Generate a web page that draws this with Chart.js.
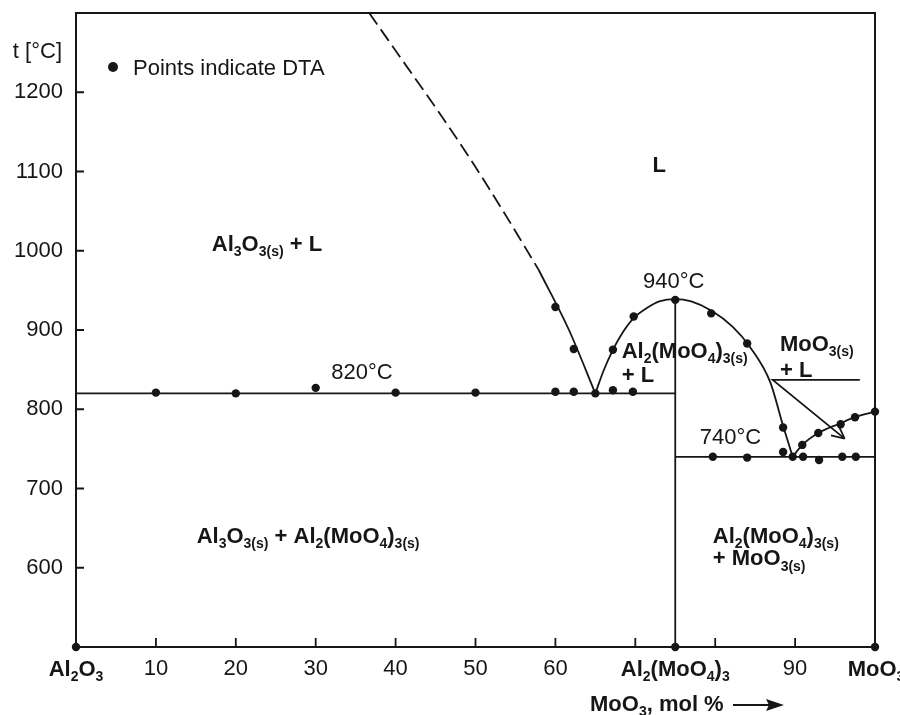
<!DOCTYPE html>
<html>
<head>
<meta charset="utf-8">
<script src="https://cdn.jsdelivr.net/npm/chart.js@4"></script>
<style>
  html, body { margin: 0; padding: 0; background: #fff; }
  #wrap { width: 900px; height: 715px; }
</style>
</head>
<body>
<div id="wrap"><canvas id="phase" width="900" height="715"></canvas></div>
<script>
// DTA measurement points (MoO3 mol %, temperature °C)
const dtaX = [0, 10, 20, 30, 40, 50, 60, 62.3, 65, 67.2, 69.7, 60, 62.3, 67.2, 69.8, 75, 79.5, 84, 88.5, 88.5, 89.7, 79.7, 84, 91, 93, 95.9, 97.6, 90.9, 92.9, 95.7, 97.5, 100, 75, 100];
const dtaY = [500, 821, 820, 827, 821, 821, 822, 822, 820, 824, 822, 929, 876, 875, 917, 938, 921, 883, 777, 746, 740, 740, 739, 740, 736, 740, 740, 755, 770, 781, 790, 797, 500, 500];

// Al2O3 liquidus (dashed, extrapolated part then measured part)
const liqDashX = [36.7, 40.8, 45.2, 49.4, 53.4, 57.9];
const liqDashY = [1300, 1241, 1178, 1115, 1051, 976];
const liqSolidX = [57.9, 61.7, 65.0];
const liqSolidY = [976, 900, 820];

// Al2(MoO4)3 liquidus dome
const domeX = [65, 66, 67.2, 68.5, 69.8, 71.5, 73, 75, 77, 79.6, 82.2, 84.4, 86.9, 88.5, 89.7];
const domeY = [820, 848, 875, 898, 915, 928, 936, 939, 936, 924, 904, 878, 834, 779, 740];

// MoO3 liquidus
const moLiqX = [89.7, 90.9, 92.9, 95.6, 97.5, 100];
const moLiqY = [740, 755, 770, 782, 790, 797];

// invariant lines
const eut820X = [0, 75];
const eut820Y = [820, 820];
const eut740X = [75, 100];
const eut740Y = [740, 740];
const compoundX = [75, 75];
const compoundY = [500, 940];

// pointer for the MoO3(s) + L label
const pointerX = [98.1, 87.2, 96.2];
const pointerY = [837, 837, 763];

// axis ticks
const xTickNums = [10, 20, 30, 40, 50, 60, 90];
const xTickMarks = [10, 20, 30, 40, 50, 60, 70, 80, 90];
const yTickVals = [600, 700, 800, 900, 1000, 1100, 1200];

const INK = '#161616';
const FONT = '"Liberation Sans", Arial, Helvetica, sans-serif';

function pts(xs, ys) {
    return xs.map((x, i) => ({ x: x, y: ys[i] }));
}

function lineSet(xs, ys, extra) {
    return Object.assign({
        data: pts(xs, ys),
        showLine: true,
        borderColor: INK,
        borderWidth: 1.8,
        pointRadius: 0,
        fill: false,
        clip: false
    }, extra || {});
}

// text with _{...} subscripts
function drawRich(ctx, str, x, y, align, size, bold) {
    const segs = str.split(/(_\{[^}]*\})/).filter(s => s.length);
    const w = bold ? 'bold ' : '';
    const subSize = Math.round(size * 0.64);
    const items = segs.map(s => {
        const sub = s.startsWith('_{');
        const text = sub ? s.slice(2, -1) : s;
        const font = w + (sub ? subSize : size) + 'px ' + FONT;
        ctx.font = font;
        return { text, sub, font, width: ctx.measureText(text).width };
    });
    const total = items.reduce((s, it) => s + it.width, 0);
    let cx = x;
    if (align === 'center') cx = x - total / 2;
    if (align === 'right') cx = x - total;
    ctx.textAlign = 'left';
    ctx.textBaseline = 'alphabetic';
    items.forEach(it => {
        ctx.font = it.font;
        ctx.fillText(it.text, cx, it.sub ? y + size * 0.24 : y);
        cx += it.width;
    });
}

const overlay = {
    id: 'overlay',
    afterDraw(chart) {
        const { ctx, chartArea: a, scales: { x, y } } = chart;
        ctx.save();
        ctx.fillStyle = INK;
        ctx.strokeStyle = INK;

        // frame
        ctx.lineWidth = 2;
        ctx.strokeRect(a.left, a.top, a.right - a.left, a.bottom - a.top);

        // inside ticks
        ctx.lineWidth = 1.8;
        ctx.beginPath();
        xTickMarks.forEach(v => {
            const px = x.getPixelForValue(v);
            ctx.moveTo(px, a.bottom);
            ctx.lineTo(px, a.bottom - 9);
        });
        yTickVals.forEach(v => {
            const py = y.getPixelForValue(v);
            ctx.moveTo(a.left, py);
            ctx.lineTo(a.left + 8, py);
        });
        ctx.stroke();

        // pointer arrowhead
        const tx = x.getPixelForValue(pointerX[2]), ty = y.getPixelForValue(pointerY[2]);
        const sx = x.getPixelForValue(pointerX[1]), sy = y.getPixelForValue(pointerY[1]);
        const ang = Math.atan2(ty - sy, tx - sx);
        ctx.beginPath();
        [0.45, -0.45].forEach(d => {
            ctx.moveTo(tx, ty);
            ctx.lineTo(tx - 14 * Math.cos(ang + d), ty - 14 * Math.sin(ang + d));
        });
        ctx.stroke();

        // compound labels on the composition axis
        const base = a.bottom + 29;
        drawRich(ctx, 'Al_{2}O_{3}', x.getPixelForValue(0), base, 'center', 22, true);
        drawRich(ctx, 'Al_{2}(MoO_{4})_{3}', x.getPixelForValue(75), base, 'center', 22, true);
        drawRich(ctx, 'MoO_{3}', x.getPixelForValue(100) + 1, base, 'center', 22, true);

        // axis titles
        drawRich(ctx, 't [°C]', a.left - 14, a.top + 45, 'right', 22, false);
        drawRich(ctx, 'MoO_{3}, mol %', 590, 711, 'left', 22, true);
        ctx.lineWidth = 2;
        ctx.beginPath();
        ctx.moveTo(733, 705);
        ctx.lineTo(772, 705);
        ctx.stroke();
        ctx.beginPath();
        ctx.moveTo(784, 705);
        ctx.lineTo(766, 699);
        ctx.lineTo(769, 705);
        ctx.lineTo(766, 711);
        ctx.closePath();
        ctx.fill();

        // legend
        ctx.beginPath();
        ctx.arc(113, 67, 5, 0, Math.PI * 2);
        ctx.fill();
        drawRich(ctx, 'Points indicate DTA', 133, 75, 'left', 22, false);

        // region and temperature labels, anchored in data units
        const L = (str, vx, vy, align, bold) =>
            drawRich(ctx, str, x.getPixelForValue(vx), y.getPixelForValue(vy), align, 22, bold);
        L('L', 73, 1100, 'center', true);
        L('Al_{3}O_{3(s)} + L', 17, 1000, 'left', true);
        L('Al_{3}O_{3(s)} + Al_{2}(MoO_{4})_{3(s)}', 15.1, 631, 'left', true);
        L('940°C', 74.8, 953, 'center', false);
        L('820°C', 35.8, 838, 'center', false);
        L('740°C', 81.9, 756, 'center', false);
        L('Al_{2}(MoO_{4})_{3(s)}', 68.3, 865, 'left', true);
        L('+ L', 68.3, 835, 'left', true);
        L('MoO_{3(s)}', 88.1, 874, 'left', true);
        L('+ L', 88.1, 841, 'left', true);
        L('Al_{2}(MoO_{4})_{3(s)}', 79.7, 631, 'left', true);
        L('+ MoO_{3(s)}', 79.7, 603, 'left', true);

        ctx.restore();
    }
};

new Chart(document.getElementById('phase'), {
    type: 'scatter',
    data: {
        datasets: [
            lineSet(liqDashX, liqDashY, { borderDash: [14, 6], cubicInterpolationMode: 'monotone' }),
            lineSet(liqSolidX, liqSolidY, { cubicInterpolationMode: 'monotone' }),
            lineSet(domeX, domeY, { cubicInterpolationMode: 'monotone' }),
            lineSet(moLiqX, moLiqY, { cubicInterpolationMode: 'monotone' }),
            lineSet(eut820X, eut820Y),
            lineSet(eut740X, eut740Y),
            lineSet(compoundX, compoundY),
            lineSet(pointerX, pointerY),
            {
                data: pts(dtaX, dtaY),
                pointRadius: 4.2,
                pointBackgroundColor: INK,
                pointBorderWidth: 0,
                clip: false
            }
        ]
    },
    options: {
        responsive: false,
        animation: false,
        events: [],
        layout: { padding: { top: 13, right: 25, left: 0, bottom: 0 } },
        plugins: { legend: { display: false }, tooltip: { enabled: false } },
        scales: {
            x: {
                type: 'linear',
                min: 0,
                max: 100,
                afterFit: s => { s.height = 68; s.paddingLeft = 0; s.paddingRight = 0; },
                border: { display: false },
                grid: { display: false, drawTicks: false },
                ticks: {
                    stepSize: 10,
                    padding: 9,
                    color: INK,
                    font: { family: FONT, size: 22 },
                    callback: v => xTickNums.includes(v) ? String(v) : null
                }
            },
            y: {
                type: 'linear',
                min: 500,
                max: 1300,
                afterFit: s => { s.width = 76; s.paddingTop = 0; s.paddingBottom = 0; },
                border: { display: false },
                grid: { display: false, drawTicks: false },
                ticks: {
                    stepSize: 100,
                    padding: 13,
                    color: INK,
                    font: { family: FONT, size: 22 },
                    callback: v => yTickVals.includes(v) ? String(v) : null
                }
            }
        }
    },
    plugins: [overlay]
});
</script>
</body>
</html>
